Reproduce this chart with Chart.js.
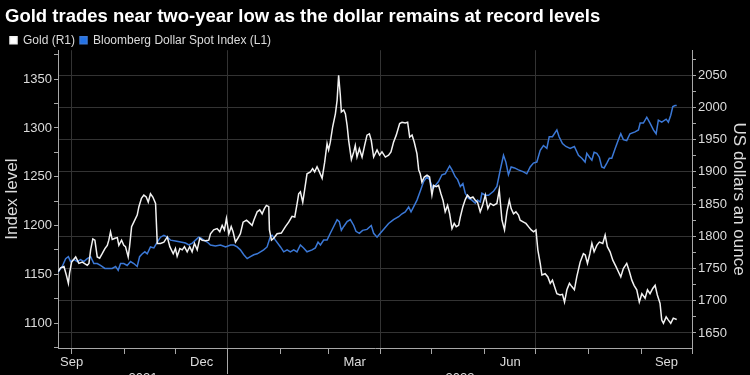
<!DOCTYPE html>
<html>
<head>
<meta charset="utf-8">
<script src="https://cdn.jsdelivr.net/npm/chart.js@4.4.0/dist/chart.umd.min.js"></script>
<style>
  html, body { margin: 0; padding: 0; background: #000; overflow: hidden; }
  #wrap { width: 750px; height: 392px; }
</style>
</head>
<body>
<div id="wrap"><canvas id="goldChart" width="750" height="392"></canvas></div>
<script>
// x values are days counted from 1 Sep 2021
const goldDays = [22, 23.5, 25.5, 26.9, 28.1, 28.8, 30, 32.4, 34.3, 36.3,
  39.2, 40.2, 41.2, 42.5, 43.7, 45.1, 46.5, 48, 49.6, 51,
  51.9, 52.9, 53.9, 55.5, 56.9, 57.8, 59.4, 60.7, 61.7, 63.3,
  64.1, 65.3, 66.6, 68.6, 69.6, 71.1, 72.5, 73.9, 75.1, 76.4,
  77.8, 79.4, 80.4, 82.3, 84.3, 86.3, 87.8, 89.8, 91.1, 92.1,
  93.7, 95.1, 96.4, 98, 99.5, 100.9, 102.3, 103.9, 105.4, 106.8,
  108.8, 110.7, 111.7, 113.6, 115.6, 117.2, 118.6, 119.9, 121.1, 122.5,
  123.9, 125, 126.4, 127.8, 129.3, 130.9, 132.9, 134.2, 136.2, 137.2,
  139.2, 140.7, 142.1, 143.4, 144.6, 146, 146.4, 147.6, 148.9, 150.9,
  153.4, 155.8, 157.7, 159.7, 161.3, 162.7, 163.6, 164.6, 166, 167.1,
  168.5, 170.5, 171.8, 173, 174.4, 175.8, 177.4, 178.9, 180.3, 181.2,
  182.2, 183.6, 185.2, 186.2, 187.1, 188.1, 188.7, 190.1, 191.1, 192.1,
  193, 194.6, 196, 196.9, 197.9, 199.3, 200.9, 202.4, 203.8, 205.2,
  206.3, 207.7, 209.7, 211.2, 212.6, 214.6, 216.5, 217.9, 219.4, 221,
  223, 224.4, 226.3, 227.7, 228.9, 230.3, 231.6, 233.2, 234.2, 235.1,
  236.1, 237.5, 239.1, 240.6, 242, 243, 244.5, 245.9, 247.3, 248.5,
  249.8, 251.2, 252.4, 253.8, 255.1, 256.3, 257.7, 258.7, 260.2, 261.6,
  262.9, 264.5, 266.1, 267.5, 268.8, 270.4, 271.8, 273.4, 274.9, 276.3,
  278.2, 280.2, 281.6, 283.2, 284.7, 286.1, 287.5, 288.6, 290, 291.4,
  292.9, 293.9, 295.9, 297.3, 298.8, 300.4, 301.8, 303.2, 304.3, 305.7,
  306.7, 308.6, 310.2, 311.6, 312.9, 314.1, 315.5, 317.4, 318.8, 320,
  321.4, 322.9, 324.3, 325.8, 327.2, 329.2, 331.1, 332.2, 333.5, 334.9,
  336.1, 337.4, 339, 340.5, 342.5, 343.9, 345.2, 346.8, 348.4, 350.3,
  351.7, 353.1, 354.6, 356.6, 358.2, 359.6, 360.9, 362.5, 364, 365.5,
  367.4, 368.8, 370.3, 371.9, 373.3, 374.6, 376.2, 377.2, 378.2, 379.8,
  381.1, 382.5, 384, 386];
const goldPrice = [1745, 1751, 1753, 1740, 1727, 1743, 1760, 1768, 1758, 1760,
  1755, 1758, 1779, 1796, 1794, 1768, 1766, 1773, 1781, 1786,
  1794, 1807, 1795, 1797, 1798, 1786, 1794, 1786, 1784, 1768,
  1784, 1815, 1822, 1833, 1846, 1859, 1864, 1861, 1853, 1866,
  1861, 1851, 1789, 1789, 1791, 1799, 1784, 1773, 1781, 1769,
  1781, 1779, 1784, 1776, 1784, 1776, 1789, 1779, 1797, 1794,
  1793, 1794, 1804, 1810, 1812, 1807, 1817, 1810, 1828, 1804,
  1815, 1807, 1791, 1797, 1804, 1822, 1825, 1822, 1817, 1825,
  1838, 1841, 1835, 1843, 1848, 1846, 1810, 1794, 1797, 1804,
  1805, 1815, 1822, 1831, 1830, 1851, 1866, 1869, 1853, 1872,
  1897, 1900, 1905, 1900, 1908, 1900, 1890, 1915, 1944, 1934,
  1946, 1970, 1990, 2011, 2050, 2019, 1993, 1996, 1990, 1972,
  1949, 1919, 1931, 1941, 1923, 1936, 1923, 1941, 1957, 1959,
  1949, 1923, 1934, 1926, 1931, 1923, 1926, 1931, 1946, 1957,
  1975, 1977, 1976, 1977, 1954, 1957, 1946, 1928, 1903, 1897,
  1884, 1892, 1895, 1892, 1864, 1879, 1877, 1879, 1866, 1856,
  1838, 1848, 1835, 1812, 1820, 1815, 1817, 1830, 1846, 1857,
  1864, 1859, 1861, 1856, 1853, 1838, 1848, 1864, 1843, 1851,
  1848, 1851, 1872, 1825, 1810, 1838, 1856, 1843, 1835, 1838,
  1833, 1825, 1822, 1820, 1815, 1810, 1807, 1810, 1779, 1758,
  1740, 1742, 1737, 1727, 1732, 1722, 1711, 1709, 1710, 1698,
  1717, 1727, 1722, 1717, 1737, 1760, 1773, 1771, 1758, 1773,
  1789, 1776, 1786, 1791, 1789, 1802, 1784, 1776, 1763, 1753,
  1745, 1737, 1750, 1758, 1745, 1732, 1724, 1717, 1698, 1711,
  1704, 1717, 1711, 1719, 1724, 1709, 1696, 1670, 1665, 1675,
  1670, 1665, 1673, 1671];

const dxyDays = [22, 24.5, 26.5, 28.1, 29.4, 31.4, 33.4, 35.3, 37.2, 39.2,
  41.2, 43.1, 45.1, 47, 49.6, 51.9, 53.9, 55.9, 57.4, 58.8,
  60.7, 62.7, 64.7, 66.6, 68.6, 70, 71.6, 73.1, 74.5, 76.4,
  78.4, 80.4, 82.3, 84.3, 86.3, 88.2, 91.1, 94.1, 97, 99,
  101, 102.9, 104.8, 106.2, 107.8, 109.8, 111.7, 114.6, 117.6, 120.6,
  123.5, 125.4, 127.4, 129.3, 131.3, 133.3, 135.2, 137.2, 139.2, 141.1,
  143, 145, 147, 148, 149.9, 152.9, 154.8, 156.8, 158.7, 160.7,
  162.6, 164.6, 166.5, 168.5, 171.5, 173.4, 175, 176.4, 178.3, 180.3,
  182.2, 184.2, 186.2, 187.5, 188.7, 190.1, 192.1, 194, 196, 197.3,
  199.3, 201.2, 203.8, 206.3, 207.7, 209.7, 211.6, 214, 216.5, 219.4,
  222.4, 224.4, 226.3, 228.3, 229.7, 231.2, 233.2, 235.1, 237.1, 239.1,
  240.6, 242.6, 244, 245.9, 247.9, 249.8, 252.4, 253.8, 255.7, 257.1,
  258.7, 260.2, 261.6, 263.5, 265.5, 267.5, 268.8, 270.4, 271.4, 273.4,
  275.3, 278.2, 280.2, 282.2, 284.1, 285.5, 287, 288.6, 290.6, 292.9,
  295.9, 297.8, 299.8, 301.7, 303.7, 305.7, 307.6, 309.6, 311, 312.9,
  315.5, 316.8, 318.8, 320.8, 323.3, 325.8, 328.2, 330.2, 332.1, 333.1,
  334.7, 336.1, 337.4, 339, 340.5, 341.9, 343.3, 344.9, 346.4, 347.8,
  349.8, 351.7, 353.1, 354.6, 356.6, 358.5, 361.5, 363.5, 364.5, 366.4,
  368.4, 370.3, 372.3, 373.9, 375.2, 377.2, 379.8, 381.1, 382.5, 383.7,
  385, 386];
const dxyLevel = [1152, 1158, 1166, 1168, 1163, 1165, 1163, 1165, 1163, 1166,
  1168, 1161, 1161, 1159, 1156, 1156, 1156, 1158, 1154, 1161,
  1161, 1159, 1163, 1161, 1158, 1168, 1171, 1173, 1171, 1178,
  1177, 1183, 1188, 1190, 1188, 1185, 1184, 1183, 1182, 1180,
  1182, 1185, 1188, 1187, 1185, 1183, 1180, 1179, 1180, 1178,
  1180, 1180, 1178, 1175, 1170, 1166, 1168, 1170, 1171, 1173,
  1175, 1178, 1189, 1190, 1185, 1178, 1173, 1175, 1173, 1175,
  1173, 1180, 1177, 1173, 1175, 1177, 1183, 1180, 1185, 1185,
  1192, 1199, 1206, 1204, 1195, 1199, 1204, 1206, 1200, 1194,
  1192, 1195, 1196, 1200, 1192, 1188, 1192, 1197, 1202, 1206,
  1209, 1212, 1214, 1219, 1214, 1219, 1226, 1235, 1245, 1250,
  1247, 1238, 1241, 1245, 1252, 1253, 1261, 1257, 1250, 1247,
  1240, 1243, 1233, 1228, 1226, 1223, 1226, 1224, 1233, 1231,
  1231, 1235, 1240, 1257, 1272, 1265, 1252, 1260, 1259, 1257,
  1255, 1253, 1260, 1264, 1265, 1277, 1282, 1279, 1291, 1291,
  1298, 1291, 1284, 1281, 1279, 1281, 1272, 1269, 1265, 1274,
  1270, 1267, 1275, 1274, 1270, 1260, 1259, 1264, 1269, 1269,
  1279, 1288, 1294, 1288, 1287, 1294, 1296, 1298, 1305, 1305,
  1311, 1305, 1298, 1294, 1308, 1306, 1309, 1306, 1313, 1322,
  1323, 1323];

// month boundaries (days since 1 Sep 2021) and the label positions on the time axis
const monthStarts = [30, 61, 91, 122, 153, 181, 212, 242, 273, 303, 334, 365, 395];
const quarterStarts = [30, 122, 212, 303, 395];
const yearBoundary = 122;
const monthLabelDays = [30, 106.5, 196.5, 288, 380];
const monthNames = ['Sep', 'Dec', 'Mar', 'Jun', 'Sep'];
const yearLabelDays = [72, 258.5];
const yearNames = ['2021', '2022'];

const FONT = "'Liberation Sans', Arial, sans-serif";
const GRID = '#333333';
const AXIS = '#a8a8a8';
const TEXT = '#dcdcdc';

function stepTicks(from, to, step) {
  const out = [];
  for (let v = from; v <= to; v += step) out.push({ value: v });
  return out;
}

const xTickValues = Array.from(new Set([...monthStarts, ...monthLabelDays, ...yearLabelDays])).sort((a, b) => a - b);

const ctx = document.getElementById('goldChart').getContext('2d');
const goldChart = new Chart(ctx, {
  type: 'line',
  data: {
    datasets: [{
      label: 'Gold (R1)',
      data: goldDays.map((d, i) => ({ x: d, y: goldPrice[i] })),
      borderColor: '#f2f2f2',
      backgroundColor: '#ffffff',
      borderWidth: 1.5,
      pointRadius: 0,
      yAxisID: 'y1'
    }, {
      label: 'Bloomberg Dollar Spot Index (L1)',
      data: dxyDays.map((d, i) => ({ x: d, y: dxyLevel[i] })),
      borderColor: '#3b78d6',
      backgroundColor: '#2272e6',
      borderWidth: 1.5,
      pointRadius: 0,
      yAxisID: 'y'
    }]
  },
  options: {
    responsive: false,
    animation: false,
    events: [],
    layout: { padding: { left: 5, right: 0, top: 0, bottom: 0 } },
    plugins: {
      title: {
        display: true,
        text: 'Gold trades near two-year low as the dollar remains at record levels',
        align: 'start',
        color: '#ffffff',
        font: { family: FONT, size: 18.5, weight: 'bold' },
        padding: { top: 6, bottom: 1 }
      },
      legend: {
        display: true,
        align: 'start',
        maxHeight: 21,
        labels: {
          color: TEXT,
          font: { family: FONT, size: 12 },
          boxWidth: 7,
          boxHeight: 7,
          padding: 5
        }
      },
      tooltip: { enabled: false }
    },
    scales: {
      x: {
        type: 'linear',
        min: 22,
        max: 395,
        afterBuildTicks: (scale) => { scale.ticks = xTickValues.map(v => ({ value: v })); },
        afterFit: (scale) => { scale.height = 44; },
        border: { display: true, color: AXIS, width: 1 },
        grid: {
          drawOnChartArea: true,
          drawTicks: true,
          tickLength: 26,
          lineWidth: 1,
          tickWidth: 1,
          color: (c) => quarterStarts.includes(c.tick.value) ? GRID : 'rgba(0,0,0,0)',
          tickColor: (c) => monthStarts.includes(c.tick.value) ? AXIS : 'rgba(0,0,0,0)',
          tickBorderDash: (c) => c.tick.value === yearBoundary ? [] : [5, 40]
        },
        ticks: {
          autoSkip: false,
          maxRotation: 0,
          padding: -19,
          color: TEXT,
          font: { family: FONT, size: 13 },
          callback: (v) => {
            const m = monthLabelDays.indexOf(v);
            if (m >= 0) return monthNames[m];
            const y = yearLabelDays.indexOf(v);
            if (y >= 0) return ['', yearNames[y]];
            return '';
          }
        }
      },
      y: {
        position: 'left',
        min: 1074.4,
        max: 1379.7,
        afterBuildTicks: (scale) => { scale.ticks = stepTicks(1075, 1375, 25); },
        afterFit: (scale) => { scale.width = 53; },
        border: { display: true, color: AXIS, width: 1 },
        grid: { drawOnChartArea: false, drawTicks: true, tickLength: 4, tickColor: AXIS },
        title: {
          display: true,
          text: 'Index level',
          color: TEXT,
          font: { family: FONT, size: 17 },
          padding: { top: -3, bottom: 0 }
        },
        ticks: {
          autoSkip: false,
          padding: 2,
          color: TEXT,
          font: { family: FONT, size: 13 },
          callback: (v) => v % 50 === 0 ? String(v) : ''
        }
      },
      y1: {
        position: 'right',
        min: 1626.7,
        max: 2088.8,
        afterBuildTicks: (scale) => { scale.ticks = stepTicks(1650, 2075, 25); },
        afterFit: (scale) => { scale.width = 58; },
        border: { display: true, color: AXIS, width: 1 },
        grid: {
          drawOnChartArea: true,
          drawTicks: true,
          tickLength: 4,
          tickColor: AXIS,
          color: (c) => c.tick.value % 50 === 0 ? GRID : 'rgba(0,0,0,0)'
        },
        title: {
          display: true,
          text: 'US dollars an ounce',
          color: TEXT,
          font: { family: FONT, size: 17 },
          padding: { top: 1, bottom: 0 }
        },
        ticks: {
          autoSkip: false,
          padding: 2,
          color: TEXT,
          font: { family: FONT, size: 13 },
          callback: (v) => v % 50 === 0 ? String(v) : ''
        }
      }
    }
  }
});
</script>
</body>
</html>
